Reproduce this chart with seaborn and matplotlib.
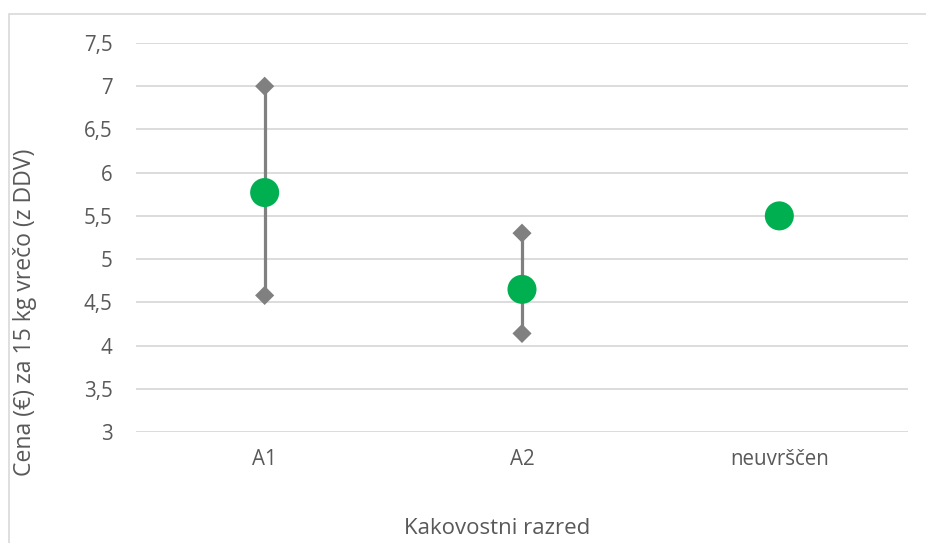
import matplotlib
matplotlib.use("Agg")
import matplotlib.pyplot as plt
from matplotlib.ticker import FuncFormatter, MultipleLocator
from matplotlib.patches import Rectangle
import seaborn as sns
import pandas as pd
import numpy as np

# ---- data ----
categories = ["A1", "A2", "neuvrščen"]
mean_price = [5.77, 4.65, 5.50]
min_price = [4.58, 4.14, np.nan]
max_price = [7.00, 5.30, np.nan]
y_label = "Cena (€) za 15 kg vrečo (z DDV)"
x_label = "Kakovostni razred"

sns.set_theme(style="white")
plt.rcParams["font.family"] = ["Open Sans", "DejaVu Sans"]

means_df = pd.DataFrame({"razred": categories, "cena": mean_price})
range_df = pd.DataFrame({
    "razred": categories * 2,
    "cena": min_price + max_price,
}).dropna()

fig = plt.figure(figsize=(9.26, 5.43), dpi=100)
ax = fig.add_axes([136 / 926, 111 / 543, 772 / 926, 389 / 543])

text_col = "#595959"
green = "#00B050"
gray = "#808080"

# means first to fix category order
sns.scatterplot(data=means_df, x="razred", y="cena", ax=ax, s=29 ** 2 * 0.52,
                color=green, edgecolor="none", zorder=4, legend=False)
sns.lineplot(data=range_df, x="razred", y="cena", units="razred", estimator=None,
             ax=ax, color=gray, linewidth=2.3, zorder=2, legend=False, sort=True)
sns.scatterplot(data=range_df, x="razred", y="cena", ax=ax, marker="D",
                s=95, color=gray, edgecolor="none", zorder=3, legend=False)

ax.set_xlim(-0.5, 2.5)
ax.set_ylim(3, 7.5)
ax.yaxis.set_major_locator(MultipleLocator(0.5))
ax.yaxis.set_major_formatter(FuncFormatter(lambda v, p: f"{v:g}".replace(".", ",")))
ax.grid(axis="y", color="#D9D9D9", linewidth=1.3)
ax.grid(axis="x", visible=False)
ax.set_axisbelow(True)
for s in ax.spines.values():
    s.set_visible(False)
ax.tick_params(axis="both", length=0, labelsize=14.8, colors=text_col)
ax.tick_params(axis="y", pad=17)
ax.tick_params(axis="x", pad=12)

ax.set_xlabel(x_label, fontsize=16, color=text_col)
ax.set_ylabel(y_label, fontsize=16.6, color=text_col)
ax.xaxis.set_label_coords((497 - 136) / 772, -(529 - 432) / 389)
ax.yaxis.set_label_coords((25 - 136) / 772, (543 - 312 - 111) / 389)
ax.xaxis.label.set_va("center")
ax.yaxis.label.set_va("center")

# outer chart border
fig.patches.append(Rectangle((9 / 926, -0.1), 1.0, 1.1 - 14 / 543 + 0.0,
                             transform=fig.transFigure, fill=False,
                             edgecolor="#D9D9D9", linewidth=1.2))

fig.savefig("out.png", dpi=100)
